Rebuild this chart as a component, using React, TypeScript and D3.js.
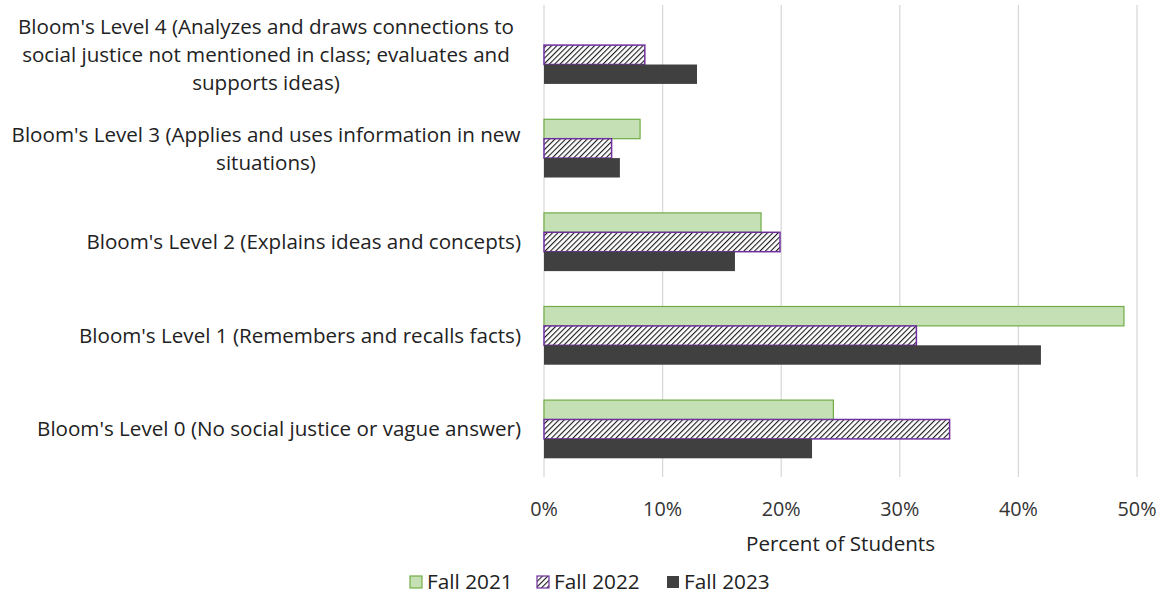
import React from "react";
import * as d3 from "d3";

const categories = [
  "Bloom's Level 4 (Analyzes and draws connections to social justice not mentioned in class; evaluates and supports ideas)",
  "Bloom's Level 3 (Applies and uses information in new situations)",
  "Bloom's Level 2 (Explains ideas and concepts)",
  "Bloom's Level 1 (Remembers and recalls facts)",
  "Bloom's Level 0 (No social justice or vague answer)",
];
const categoryLines = [
  ["Bloom's Level 4 (Analyzes and draws connections to", "social justice not mentioned in class; evaluates and", "supports ideas)"],
  ["Bloom's Level 3 (Applies and uses information in new", "situations)"],
  ["Bloom's Level 2 (Explains ideas and concepts)"],
  ["Bloom's Level 1 (Remembers and recalls facts)"],
  ["Bloom's Level 0 (No social justice or vague answer)"],
];
const seriesNames = ["Fall 2021", "Fall 2022", "Fall 2023"];
const fall2021 = [0, 8.1, 18.3, 48.9, 24.4];
const fall2022 = [8.5, 5.7, 19.9, 31.4, 34.2];
const fall2023 = [12.9, 6.4, 16.1, 41.9, 22.6];
const xTicks = [0, 10, 20, 30, 40, 50];

const W = 1164;
const H = 596;
const M = { left: 544, right: 27, top: 8, bottom: 120 };
const FONT = "'Open Sans', sans-serif";
const FS = 20.6;
const FS_TICK = 19.8;
const FS_LEG = 20.8;

export default function App() {
  const x = d3.scaleLinear().domain([0, 50]).range([M.left, W - M.right]);
  const y = d3
    .scaleBand<string>()
    .domain(categories)
    .range([M.top, H - M.bottom])
    .paddingInner(0.378)
    .paddingOuter(0.189);
  const ySub = d3.scaleBand<string>().domain(seriesNames).range([0, y.bandwidth()]);
  const values = [fall2021, fall2022, fall2023];
  const fills = ["#c5e0b4", "url(#hatch)", "#404040"];
  const strokes = ["#70ad47", "#7030a0", "none"];
  const labelCenter = 266;
  const lineH = 28;

  const legendX = [410, 537, 667];
  const legendY = 582;

  return (
    <svg width={W} height={H} style={{ position: "absolute", left: 0, top: 0, background: "#fff" }}>
      <defs>
        <pattern id="hatch" width="3.8" height="3.8" patternUnits="userSpaceOnUse" patternTransform="rotate(45)">
          <rect width="3.8" height="3.8" fill="#fff" />
          <line x1="0" y1="0" x2="0" y2="3.8" stroke="#1a1a1a" strokeWidth="2.2" />
        </pattern>
      </defs>
      {xTicks.map((t) => (
        <g key={t}>
          <line x1={x(t)} x2={x(t)} y1={M.top - 3} y2={H - M.bottom + 1} stroke="#d9d9d9" strokeWidth={1.3} />
          <text x={x(t)} y={509} dy="0.35em" textAnchor="middle" fontFamily={FONT} fontSize={FS_TICK} fill="#333">
            {t}%
          </text>
        </g>
      ))}
      {categories.map((c, ci) => (
        <g key={c}>
          {seriesNames.map((s, si) => {
            const v = values[si][ci];
            if (v <= 0) return null;
            return (
              <rect
                key={s}
                x={x(0)}
                y={(y(c) as number) + (ySub(s) as number)}
                width={x(v) - x(0)}
                height={ySub.bandwidth()}
                fill={fills[si]}
                stroke={strokes[si]}
                strokeWidth={si === 1 ? 1.5 : 1.2}
              />
            );
          })}
          {(() => {
            const lines = categoryLines[ci];
            const cy = (y(c) as number) + y.bandwidth() / 2;
            const multi = lines.length > 1;
            return lines.map((ln, li) => (
              <text
                key={li}
                x={multi ? labelCenter : 521}
                y={cy + (li - (lines.length - 1) / 2) * lineH}
                dy="0.35em"
                textAnchor={multi ? "middle" : "end"}
                fontFamily={FONT}
                fontSize={FS}
                fill="#222"
              >
                {ln}
              </text>
            ));
          })()}
        </g>
      ))}
      <text x={(x(0) + x(50)) / 2} y={544} dy="0.35em" textAnchor="middle" fontFamily={FONT} fontSize={FS} fill="#222">
        Percent of Students
      </text>
      {seriesNames.map((s, si) => (
        <g key={s}>
          <rect
            x={legendX[si]}
            y={legendY - 6}
            width={12}
            height={12}
            fill={fills[si]}
            stroke={si === 2 ? "none" : strokes[si]}
            strokeWidth={1.2}
          />
          <text x={legendX[si] + 17} y={legendY} dy="0.35em" fontFamily={FONT} fontSize={FS_LEG} fill="#222">
            {s}
          </text>
        </g>
      ))}
    </svg>
  );
}
